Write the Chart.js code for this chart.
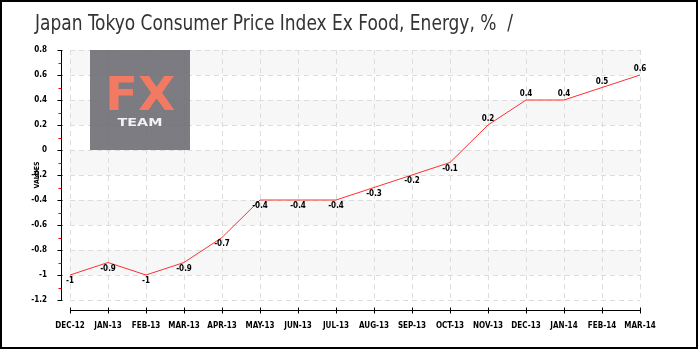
<!DOCTYPE html>
<html>
<head>
<meta charset="utf-8">
<script src="https://cdn.jsdelivr.net/npm/chart.js@4.4.0/dist/chart.umd.min.js"></script>
<style>
  html, body { margin: 0; padding: 0; background: #fff; }
  #wrap { width: 700px; height: 350px; position: relative; }
</style>
</head>
<body>
<div id="wrap"><canvas id="cpiChart" width="700" height="350"></canvas></div>
<script>
const chartTitle = 'Japan Tokyo Consumer Price Index Ex Food, Energy, %  /';
const months = ['DEC-12', 'JAN-13', 'FEB-13', 'MAR-13', 'APR-13', 'MAY-13', 'JUN-13', 'JUL-13',
                'AUG-13', 'SEP-13', 'OCT-13', 'NOV-13', 'DEC-13', 'JAN-14', 'FEB-14', 'MAR-14'];
const cpiValues = [-1, -0.9, -1, -0.9, -0.7, -0.4, -0.4, -0.4, -0.3, -0.2, -0.1, 0.2, 0.4, 0.4, 0.5, 0.6];
const yMin = -1.2, yMax = 0.8, yStep = 0.2;

const pixelFont = '"DejaVu Sans Condensed", "DejaVu Sans", sans-serif';

// ---------------- Background: title, bands, dashed grid, logo ----------------
const backdrop = {
    id: 'backdrop',
    beforeDraw(chart) {
        const { ctx, chartArea: a, scales: { x, y } } = chart;
        ctx.save();
        ctx.fillStyle = '#fff';
        ctx.fillRect(0, 0, chart.width, chart.height);

        // alternating bands
        ctx.fillStyle = '#f7f7f7';
        for (let v = yMax; v > yMin + 0.001; v -= 2 * yStep) {
            const t = y.getPixelForValue(v);
            const b = y.getPixelForValue(v - yStep);
            ctx.fillRect(a.left, t, a.right - a.left, b - t);
        }

        // dashed grid
        ctx.strokeStyle = '#dddddd';
        ctx.lineWidth = 1;
        ctx.setLineDash([5, 4]);
        ctx.beginPath();
        y.ticks.forEach(t => {
            const py = Math.round(y.getPixelForValue(t.value)) + 0.5;
            ctx.moveTo(a.left, py);
            ctx.lineTo(a.right, py);
        });
        months.forEach((m, i) => {
            const px = Math.round(x.getPixelForValue(i)) + 0.5;
            ctx.moveTo(px, a.top);
            ctx.lineTo(px, a.bottom);
        });
        ctx.stroke();
        ctx.setLineDash([]);

        // logo (slightly see-through, grid shows faintly)
        ctx.globalAlpha = 0.88;
        ctx.fillStyle = '#6a6a71';
        ctx.fillRect(90, 50, 100, 100);
        ctx.globalAlpha = 1;
        ctx.fillStyle = '#f27a62';
        ctx.textAlign = 'center';
        ctx.textBaseline = 'alphabetic';
        ctx.font = 'bold 46px "DejaVu Sans", sans-serif';
        ctx.save();
        ctx.translate(140, 110);
        ctx.scale(1.05, 1);
        ctx.fillText('FX', 0, 0);
        ctx.restore();
        ctx.fillStyle = '#f2f2f2';
        ctx.font = 'bold 11px "DejaVu Sans", sans-serif';
        ctx.save();
        ctx.translate(140, 126);
        ctx.scale(1.3, 1);
        ctx.fillText('TEAM', 0, 0);
        ctx.restore();

        // title
        ctx.fillStyle = '#333';
        ctx.textAlign = 'left';
        ctx.font = '21px "DejaVu Sans Condensed", sans-serif';
        const w = ctx.measureText(chartTitle).width;
        ctx.save();
        ctx.translate(35, 30);
        ctx.scale(478 / w, 1);
        ctx.fillText(chartTitle, 0, 0);
        ctx.restore();
        ctx.restore();
    },
    afterDraw(chart) {
        const { ctx, chartArea: a, scales: { x, y } } = chart;
        ctx.save();
        ctx.strokeStyle = '#000';
        ctx.lineWidth = 1;

        // offset y axis
        const ax = Math.round(a.left) - 9 + 0.5;
        ctx.beginPath();
        ctx.moveTo(ax, a.top);
        ctx.lineTo(ax, a.bottom);
        y.ticks.forEach(t => {
            const py = Math.round(y.getPixelForValue(t.value)) + 0.5;
            ctx.moveTo(ax - 4, py);
            ctx.lineTo(ax + 1, py);
        });
        ctx.stroke();
        ctx.strokeStyle = '#e00';
        ctx.beginPath();
        y.ticks.slice(0, -1).forEach(t => {
            const py = Math.round(y.getPixelForValue(t.value + yStep / 2)) + 0.5;
            ctx.moveTo(ax - 3, py);
            ctx.lineTo(ax, py);
        });
        ctx.stroke();

        // offset x axis
        ctx.strokeStyle = '#000';
        const ay = Math.round(a.bottom) + 10 + 0.5;
        ctx.beginPath();
        ctx.moveTo(a.left, ay);
        ctx.lineTo(a.right, ay);
        months.forEach((m, i) => {
            const px = Math.round(x.getPixelForValue(i)) + 0.5;
            ctx.moveTo(px, ay - 3);
            ctx.lineTo(px, ay + 3);
        });
        ctx.stroke();

        // frame
        ctx.lineWidth = 2;
        ctx.strokeRect(1, 1, 696, 347);
        ctx.restore();
    }
};

// ---------------- Point value labels ----------------
const valueLabels = {
    id: 'valueLabels',
    afterDatasetsDraw(chart) {
        const { ctx } = chart;
        const meta = chart.getDatasetMeta(0);
        ctx.save();
        ctx.fillStyle = '#000';
        ctx.font = 'bold 8px ' + pixelFont;
        ctx.textAlign = 'center';
        ctx.textBaseline = 'middle';
        meta.data.forEach((pt, i) => {
            const v = cpiValues[i];
            ctx.fillText(String(v), pt.x, v > 0 ? pt.y - 6 : pt.y + 6);
        });
        ctx.restore();
    }
};

new Chart(document.getElementById('cpiChart'), {
    type: 'line',
    data: {
        labels: months,
        datasets: [{
            data: cpiValues,
            borderColor: '#ff3030',
            borderWidth: 1,
            pointRadius: 0,
            tension: 0,
            fill: false
        }]
    },
    options: {
        responsive: false,
        animation: false,
        layout: { padding: { top: 50, right: 60, bottom: 0, left: 0 } },
        plugins: {
            legend: { display: false },
            tooltip: { enabled: false }
        },
        scales: {
            x: {
                offset: false,
                afterFit: s => { s.height = 50; },
                grid: { display: false },
                border: { display: false },
                ticks: {
                    padding: 13,
                    maxRotation: 0,
                    autoSkip: false,
                    color: '#000',
                    font: { family: pixelFont, size: 8, weight: 'bold' }
                }
            },
            y: {
                min: yMin,
                max: yMax,
                afterFit: s => { s.width = 70; },
                grid: { display: false },
                border: { display: false },
                title: {
                    display: true,
                    text: 'VALUES',
                    color: '#000',
                    padding: { top: 33, bottom: 0 },
                    font: { family: pixelFont, size: 7, weight: 'bold' }
                },
                ticks: {
                    stepSize: yStep,
                    padding: 15,
                    color: '#000',
                    font: { family: pixelFont, size: 8, weight: 'bold' },
                    callback: v => String(Math.round(v * 10) / 10)
                }
            }
        }
    },
    plugins: [backdrop, valueLabels]
});
</script>
</body>
</html>
